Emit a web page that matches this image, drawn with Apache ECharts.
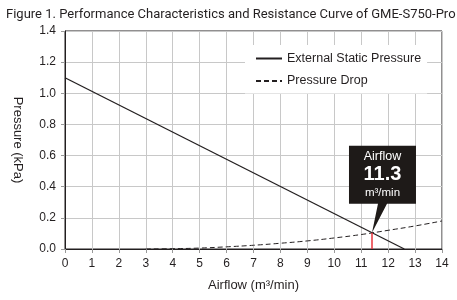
<!DOCTYPE html>
<html><head><meta charset="utf-8">
<script src="https://cdn.jsdelivr.net/npm/echarts@6/dist/echarts.min.js"></script>
<style>html,body{margin:0;padding:0;background:#fff}#c{width:457px;height:300px}</style>
</head><body><div id="c"></div>
<script>
const titleText = 'Figure 1. Performance Characteristics and Resistance Curve of GME-S750-Pro';
const xName = 'Airflow (m³/min)';
const yName = 'Pressure (kPa)';
const seriesNames = ['External Static Pressure', 'Pressure Drop'];
// External static pressure (straight line)
const espX = [0, 12.6];
const espY = [1.1, 0];
// Pressure drop curve
const pdX = [3, 4, 5, 6, 7, 8, 9, 10, 11, 12, 13, 14];
const pdY = [0, 0.002, 0.006, 0.014, 0.024, 0.037, 0.052, 0.071, 0.093, 0.12, 0.148, 0.18];
// Operating point
const opX = 11.4;
const opY = 0.105;
const opLabel = '11.3';
const opUnit = 'm³/min';
const opTitle = 'Airflow';

const dark = '#231f20';
const font = 'Liberation Sans';
const chart = echarts.init(document.getElementById('c'), null, {renderer: 'canvas'});
chart.setOption({
  animation: false,
  title: {text: titleText, left: 1, top: 3, textStyle: {fontFamily: 'Roboto', fontWeight: 'normal', fontSize: 13, color: dark}},
  grid: {left: 65, right: 15, top: 31, bottom: 51, show: true, borderColor: dark, borderWidth: 1},
  legend: {
    orient: 'vertical', left: 245, top: 45, backgroundColor: '#fff', padding: [7, 6, 6, 10],
    itemWidth: 26, itemHeight: 14, itemGap: 9.5,
    itemStyle: {opacity: 0},
    textStyle: {fontFamily: font, fontSize: 12.5, color: dark},
    data: seriesNames
  },
  xAxis: {
    type: 'value', min: 0, max: 14, interval: 1,
    name: xName, nameLocation: 'middle', nameGap: 30,
    nameTextStyle: {fontFamily: font, fontSize: 13, color: dark},
    axisLine: {lineStyle: {color: dark}},
    axisTick: {show: true, length: 4, lineStyle: {color: '#999'}},
    axisLabel: {fontFamily: font, fontSize: 12, color: dark, margin: 9},
    splitLine: {lineStyle: {color: '#c8c8c8'}}
  },
  yAxis: {
    type: 'value', min: 0, max: 1.4, interval: 0.2,
    name: yName, nameLocation: 'middle', nameGap: 41, nameRotate: -90,
    nameTextStyle: {fontFamily: font, fontSize: 13, color: dark},
    axisLine: {show: true, lineStyle: {color: dark}},
    axisTick: {show: true, length: 4, lineStyle: {color: '#999'}},
    axisLabel: {fontFamily: font, fontSize: 12, color: dark, margin: 9, formatter: v => v.toFixed(1)},
    splitLine: {lineStyle: {color: '#c8c8c8'}}
  },
  series: [
    {
      name: seriesNames[0], type: 'line', symbol: 'none', z: 3,
      lineStyle: {color: dark, width: 1.3},
      itemStyle: {color: dark},
      data: espX.map((x, i) => [x, espY[i]]),
      markLine: {
        silent: true, symbol: 'none', label: {show: false},
        lineStyle: {color: '#e8333b', width: 1.5, type: 'solid'},
        data: [[{coord: [opX, 0]}, {coord: [opX, opY]}]]
      },
      markPoint: {
        silent: true,
        symbol: 'path://M0,0 L67,0 L67,58 L38,58 L23,87 L29,58 L0,58 Z',
        symbolSize: [67, 87],
        symbolKeepAspect: false,
        symbolOffset: [10.5, -43.5],
        itemStyle: {color: '#1e1a18'},
        label: {
          show: true, position: 'inside', offset: [0, -14.5],
          formatter: `{a|${opTitle}}\n{b|${opLabel}}\n{c|${opUnit}}`,
          rich: {
            a: {fontFamily: font, fontSize: 12.5, color: '#fff', lineHeight: 17},
            b: {fontFamily: font, fontSize: 20, fontWeight: 'bold', color: '#fff', lineHeight: 20},
            c: {fontFamily: font, fontSize: 11.5, color: '#fff', lineHeight: 17}
          }
        },
        data: [{coord: [opX, opY]}]
      }
    },
    {
      name: seriesNames[1], type: 'line', symbol: 'none', smooth: true, z: 2,
      lineStyle: {color: dark, width: 1, type: [5, 3]},
      itemStyle: {color: dark},
      data: pdX.map((x, i) => [x, pdY[i]])
    }
  ]
});
</script></body></html>
